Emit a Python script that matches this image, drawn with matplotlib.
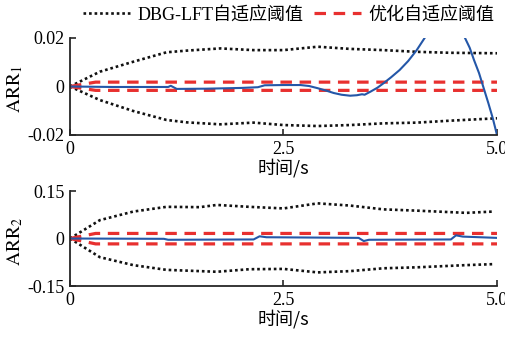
import matplotlib
matplotlib.use("Agg")
import matplotlib.pyplot as plt
from matplotlib.lines import Line2D

plt.rcParams["font.family"] = ["Liberation Serif", "Noto Sans CJK SC"]
plt.rcParams["mathtext.fontset"] = "stix"
plt.rcParams["font.size"] = 13

# ARR1 panel
t_dbg1 = [0, 0.35, 0.74, 1.13, 1.37, 1.76, 2.15, 2.5, 2.9, 3.28, 3.67, 4.06, 4.45, 5.0]
dbg1_up = [0, 0.0061, 0.0102, 0.0141, 0.0148, 0.0157, 0.0150, 0.0150, 0.0164, 0.0155,
           0.0150, 0.0143, 0.0139, 0.0137]
dbg1_lo = [0, -0.0056, -0.0101, -0.0138, -0.0148, -0.0156, -0.0149, -0.0159, -0.0163,
           -0.0159, -0.0152, -0.0149, -0.0141, -0.0131]
t_opt1 = [0, 0.3, 5.0]
opt1_up = [0, 0.0018, 0.0018]
opt1_lo = [0, -0.0016, -0.0016]
t_arr1 = [0, 0.5, 1.15, 1.18, 1.25, 1.6, 2.0, 2.2, 2.28, 2.5, 2.7, 2.8, 2.9, 3.0,
          3.09, 3.18, 3.28, 3.36, 3.42, 3.45, 3.52, 3.6, 3.67, 3.76, 3.86, 3.96, 4.06,
          4.16, 4.3, 4.45, 4.55, 4.62, 4.68, 4.73, 4.79, 4.84, 4.9, 4.95, 5.0]
arr1 = [0, -0.0002, -0.0002, 0.0003, -0.0010, -0.0009, -0.0006, -0.0003, 0.0005,
        0.0006, 0.0006, 0.0002, -0.0007, -0.0017, -0.0027, -0.0034, -0.0038, -0.0036,
        -0.0032, -0.0034, -0.0021, -0.0005, 0.0013, 0.0038, 0.0068, 0.0105, 0.0150,
        0.0204, 0.0280, 0.0310, 0.0280, 0.0204, 0.0160, 0.0110, 0.0055, -0.0002,
        -0.0070, -0.0130, -0.0200]

# ARR2 panel
t_dbg2 = [0, 0.35, 0.74, 1.13, 1.52, 1.72, 2.1, 2.5, 2.9, 3.28, 3.67, 4.06, 4.64, 4.95]
dbg2_up = [0, 0.058, 0.085, 0.100, 0.099, 0.106, 0.100, 0.095, 0.111, 0.104, 0.092,
           0.088, 0.081, 0.085]
dbg2_lo = [0, -0.059, -0.084, -0.099, -0.103, -0.105, -0.097, -0.096, -0.107, -0.103,
           -0.094, -0.091, -0.084, -0.081]
t_opt2 = [0, 0.3, 5.0]
opt2_up = [0, 0.016, 0.016]
opt2_lo = [0, -0.017, -0.017]
t_arr2 = [0, 1.1, 1.15, 2.15, 2.22, 2.3, 3.38, 3.44, 3.5, 4.46, 4.52, 4.6, 5.0]
arr2 = [0, -0.001, -0.004, -0.003, 0.007, 0.004, 0.002, -0.008, -0.004, -0.003,
        0.010, 0.006, 0.002]

xticks = [0, 2.5, 5.0]
xtick_labels = ["0", "2.5", "5.0"]

BLACK = "#111111"
RED = "#e8302f"
BLUE = "#2457a8"
dot_style = dict(color=BLACK, lw=1.9, linestyle=(0, (1, 1.1)), dash_capstyle="butt")
dash_style = dict(color=RED, lw=2.3, linestyle=(0, (3.6, 2.4)))
blue_style = dict(color=BLUE, lw=1.5)

fig = plt.figure(figsize=(5.06, 3.38), dpi=100)
ax1 = fig.add_axes([0.1383, 0.6006, 0.8439, 0.2870])
ax2 = fig.add_axes([0.1383, 0.1538, 0.8439, 0.2811])


def draw_panel(ax, t_dbg, up, lo, t_opt, oup, olo, t_arr, arr, ylim, yticks, yticklabels, ylabel):
    ax.plot(t_dbg, up, **dot_style)
    ax.plot(t_dbg, lo, **dot_style)
    ax.plot(t_opt, oup, **dash_style)
    ax.plot(t_opt, olo, **dash_style)
    ax.plot(t_arr, arr, **blue_style)
    ax.set_xlim(0, 5.0)
    ax.set_ylim(*ylim)
    ax.set_xticks(xticks)
    ax.set_xticklabels(xtick_labels)
    ax.set_yticks(yticks)
    ax.set_yticklabels(yticklabels)
    for side in ("top", "right"):
        ax.spines[side].set_visible(False)
    for side in ("left", "bottom"):
        ax.spines[side].set_linewidth(1.3)
        ax.spines[side].set_color("#262626")
    ax.tick_params(direction="in", length=4, width=1.2, color="#262626", pad=4)
    ax.set_xlabel("时间/s", family=["Noto Sans CJK SC"], labelpad=1)
    ax.set_ylabel(ylabel, fontsize=14)
    ax.yaxis.set_label_coords(-0.105, 0.47)


draw_panel(ax1, t_dbg1, dbg1_up, dbg1_lo, t_opt1, opt1_up, opt1_lo, t_arr1, arr1,
           (-0.02, 0.02), [-0.02, 0, 0.02], ["-0.02", "0", "0.02"], r"$\mathrm{ARR}_1$")
draw_panel(ax2, t_dbg2, dbg2_up, dbg2_lo, t_opt2, opt2_up, opt2_lo, t_arr2, arr2,
           (-0.15, 0.15), [-0.15, 0, 0.15], ["-0.15", "0", "0.15"], r"$\mathrm{ARR}_2$")

handles = [Line2D([], [], **dot_style), Line2D([], [], **dash_style)]
fig.legend(handles, ["DBG-LFT自适应阈值", "优化自适应阈值"], ncol=2, frameon=False,
           loc="center", bbox_to_anchor=(0.571, 0.956), handlelength=2.6,
           handletextpad=0.4, columnspacing=0.6, borderaxespad=0)

fig.savefig("out.png", dpi=100)
